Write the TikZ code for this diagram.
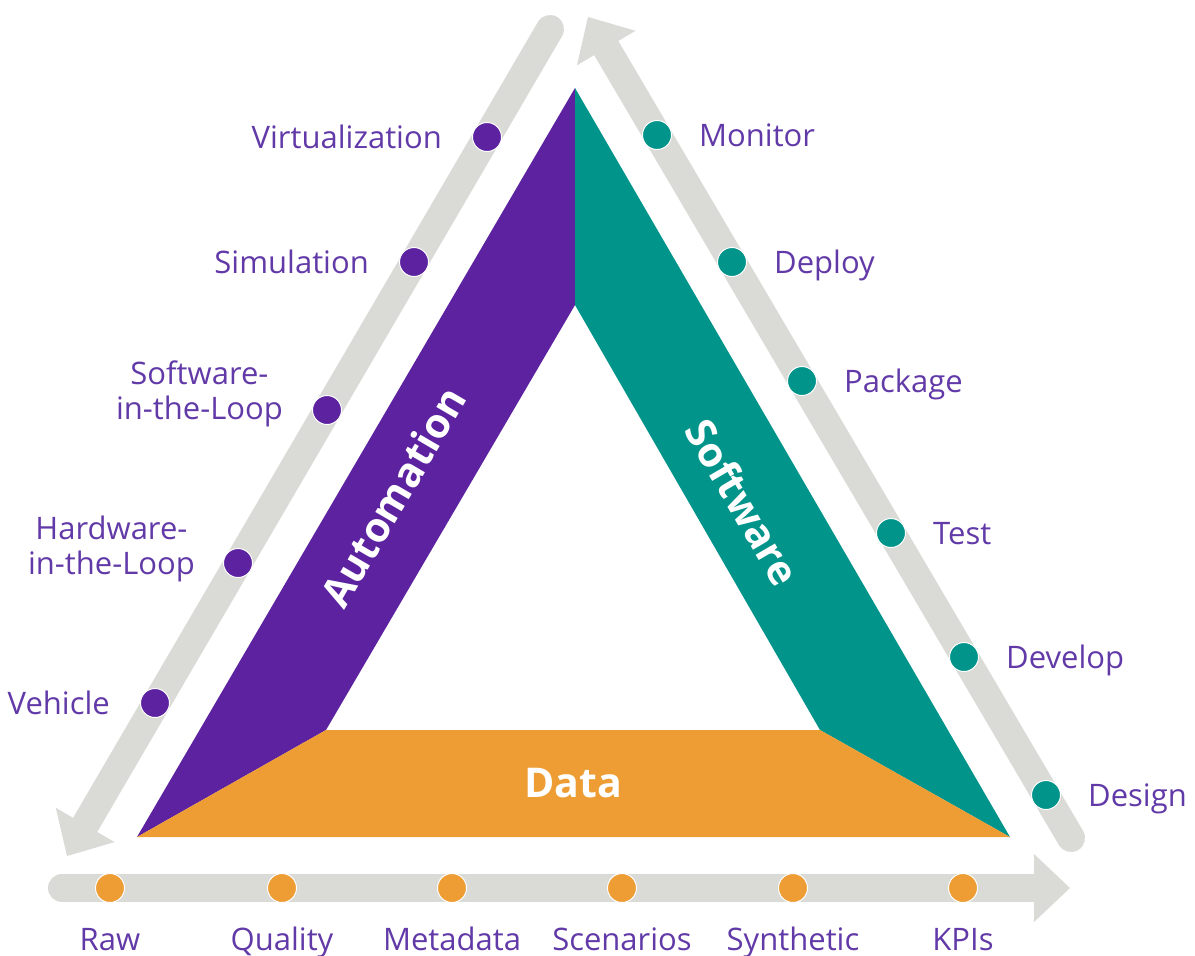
\documentclass[tikz,border=0pt]{standalone}
\usepackage{fontspec}
\setmainfont{Open Sans}
\usetikzlibrary{arrows.meta}

\definecolor{autopurple}{RGB}{92,34,160}
\definecolor{softteal}{RGB}{0,148,138}
\definecolor{dataorange}{RGB}{237,157,52}
\definecolor{trackgrey}{RGB}{218,218,214}
\definecolor{labelpurple}{RGB}{98,58,168}

\tikzset{
  track/.style={
    draw=trackgrey,
    line width=28pt,
    line cap=round,
    -{Triangle[width=68pt,length=36pt,line width=0pt]}
  },
  stagedot/.style={circle, inner sep=0pt, minimum size=29pt, draw=white, line width=1pt},
  steplabel/.style={text=labelpurple, inner sep=0pt, font=\fontsize{31}{35}\selectfont},
  oneline/.style={steplabel, text height=22pt, text depth=0pt},
  bandlabel/.style={text=white, inner sep=0pt, font=\bfseries\fontsize{41}{44}\selectfont}
}

\begin{document}
\begin{tikzpicture}[
  x={(1pt,0pt)},
  y={(0pt,-1pt)}
]
\useasboundingbox (0,0) rectangle (1195,956);

% grey tracks
\coordinate (autoStart) at (550,29);
\coordinate (autoEnd) at (67,856);
\coordinate (softStart) at (1071,838);
\coordinate (softEnd) at (588,17);
\coordinate (dataStart) at (62,888);
\coordinate (dataEnd) at (1070,888);

\draw[track] (autoStart) -- (autoEnd);
\draw[track] (softStart) -- (softEnd);
\draw[track] (dataStart) -- (dataEnd);

% bands
\fill[autopurple]
(575,88)
-- (575,305)
-- (326,730)
-- (137,837)
-- cycle;

\fill[softteal]
(575,88)
-- (1010,837)
-- (820,730)
-- (575,305)
-- cycle;

\fill[dataorange]
(137,837)
-- (326,730)
-- (820,730)
-- (1010,837)
-- cycle;

\node[bandlabel, rotate=59.7] (automation) at (393,497) {Automation};
\node[bandlabel, rotate=-59.7] (software) at (743,502) {Software};
\node[bandlabel] (data) at (573,783) {Data};

% automation stages
\foreach \x/\y/\name/\t in {487/137/virt/Virtualization, 414/262/sim/Simulation, 155/703/veh/Vehicle}
{
  \node[stagedot, fill=autopurple] (\name) at (\x,\y) {};
  \node[oneline, anchor=east] (\name label) at ([xshift=-30pt]\name.west) {\t};
}
\node[stagedot, fill=autopurple] (sil) at (327,410) {};
\node[stagedot, fill=autopurple] (hil) at (238,563) {};
\node[steplabel, align=center, anchor=north east] (sil label) at (283,361) {Software-\\in-the-Loop};
\node[steplabel, align=center, anchor=north east] (hil label) at (195,516) {Hardware-\\in-the-Loop};

% software stages
\foreach \x/\y/\name/\t in {657/135/mon/Monitor, 732/262/dep/Deploy, 802/381/pkg/Package, 891/533/tst/Test, 964/657/dev/Develop, 1046/795/dsg/Design}
{
  \node[stagedot, fill=softteal] (\name) at (\x,\y) {};
  \node[oneline, anchor=west] (\name label) at ([xshift=27pt]\name.east) {\t};
}

% data stages
\foreach \x/\name/\t in {110/raw/Raw, 282/qual/Quality, 452/meta/Metadata, 622/scen/Scenarios, 793/synth/Synthetic, 963/kpi/KPIs}
{
  \node[stagedot, fill=dataorange] (\name) at (\x,888) {};
  \node[oneline, anchor=base] (\name label) at ([yshift=-47.5pt]\name.south) {\t};
}
\end{tikzpicture}
\end{document}
